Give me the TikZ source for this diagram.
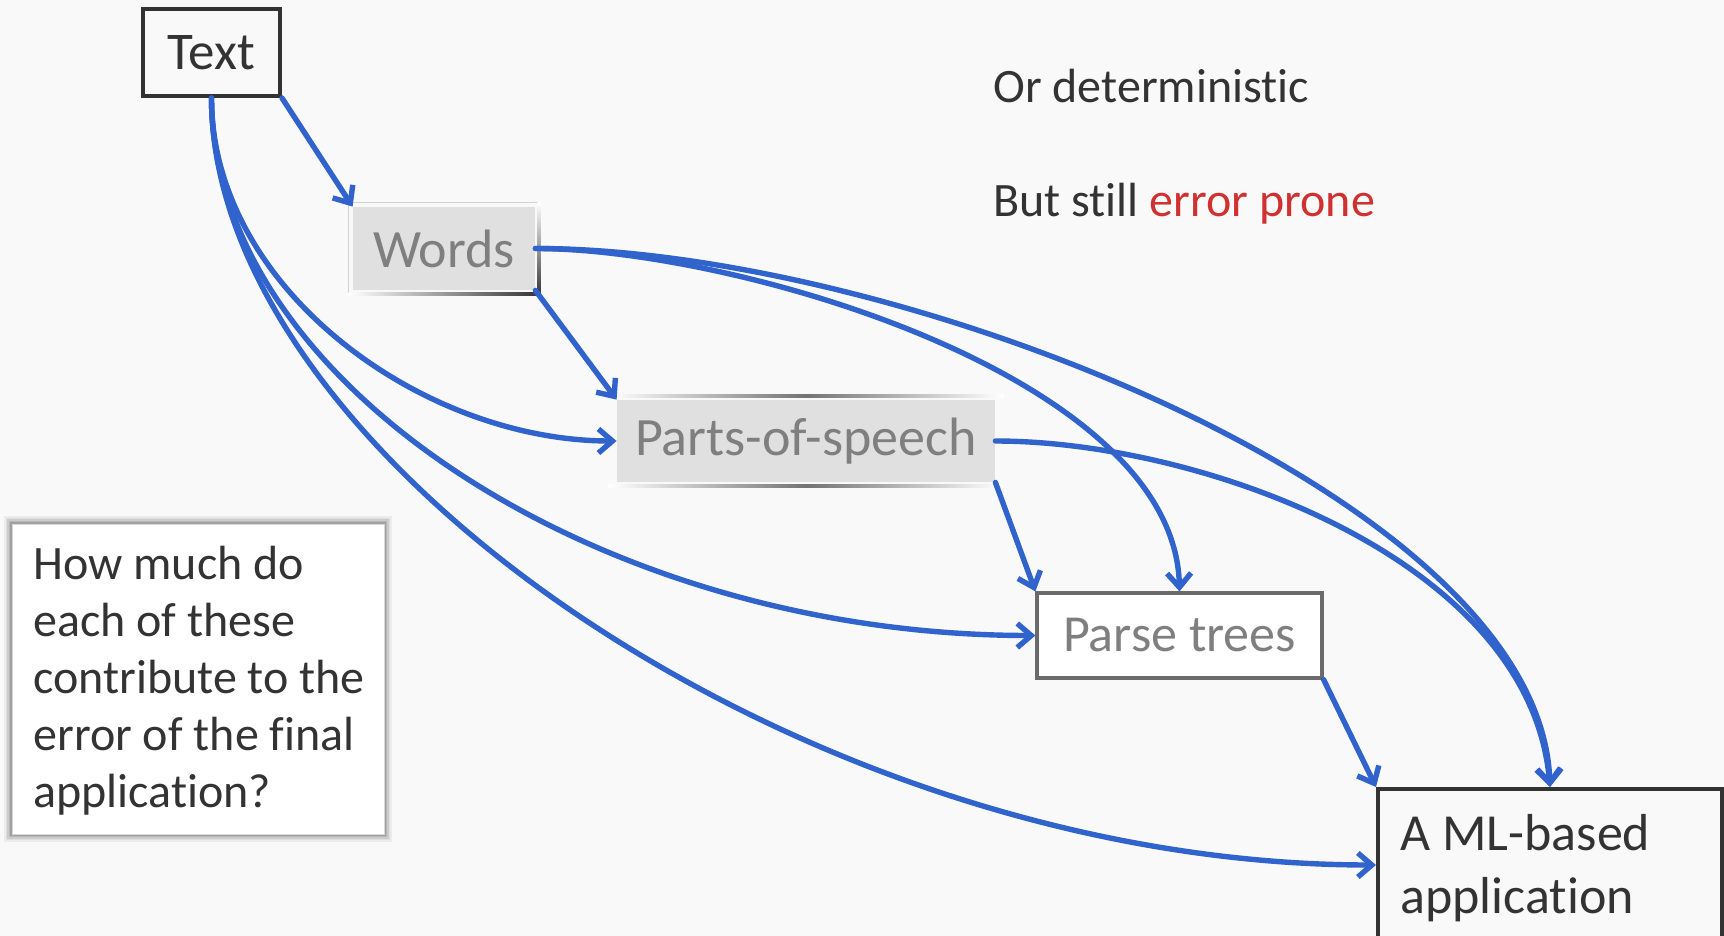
\documentclass[tikz,border=0pt]{standalone}
\usepackage{fontspec}
\setmainfont{Carlito}[Ligatures=NoCommon]
\usetikzlibrary{arrows.meta}
\definecolor{bg}{HTML}{F9F9F9}
\definecolor{ink}{HTML}{333333}
\definecolor{mute}{HTML}{7F7F7F}
\definecolor{chip}{HTML}{E0E0E0}
\definecolor{flow}{HTML}{3163CC}
\definecolor{warn}{HTML}{D03030}
\begin{document}
\begin{tikzpicture}[x=0.5pt,y=-0.5pt,
  darkbox/.style={draw=ink, line width=2pt, rectangle, inner sep=0pt},
  chipbox/.style={fill=chip, rectangle, inner sep=0pt, text=mute},
  note/.style={anchor=base west, text=ink, inner sep=0pt, font=\fontsize{24}{30}\selectfont},
  link/.style={draw=flow, line width=2.7pt, line cap=round,
    -{Straight Barb[length=7pt, width=12pt, line width=2.7pt]}},
]
\fill[bg] (0,0) rectangle (1724,936);
\useasboundingbox (0,0) rectangle (1724,936);

% pipeline stages
\node[darkbox, minimum width=68.5pt, minimum height=43.5pt, text=ink,
  font=\fontsize{26.5}{30}\selectfont] (text) at (211.5,52.5) {Text};

\node[chipbox, minimum width=91pt, minimum height=41.5pt,
  font=\fontsize{27}{32}\selectfont] (words) at (444,248.5) {Words};
\draw[gray!35, line width=0.6pt] ([shift={(-2pt,-2pt)}]words.south west) |- ([shift={(2pt,2pt)}]words.north east);
\shade[left color=white, right color=black!80] ([shift={(-2pt,-1pt)}]words.south west) rectangle ([shift={(2.5pt,-2.5pt)}]words.south east);
\shade[top color=white, bottom color=black!80] ([shift={(1pt,2pt)}]words.north east) rectangle ([shift={(2.5pt,-2.5pt)}]words.south east);

\node[chipbox, minimum width=189pt, minimum height=41pt,
  font=\fontsize{27}{32}\selectfont] (pos) at (806,441) {Parts-of-speech};
\shade[left color=white, right color=white, middle color=black!55] ([shift={(-4pt,1pt)}]pos.north west) rectangle ([shift={(4pt,2.5pt)}]pos.north east);
\shade[left color=white, right color=white, middle color=black!55] ([shift={(-4pt,-1pt)}]pos.south west) rectangle ([shift={(4pt,-2.5pt)}]pos.south east);

\node[draw=black!58, line width=1.6pt, rectangle, inner sep=0pt, fill=white,
  minimum width=142.5pt, minimum height=42.5pt, text=mute,
  font=\fontsize{26}{31}\selectfont] (parse) at (1179.5,635.5) {Parse trees};

\node[darkbox, fill=bg, minimum width=172pt, minimum height=76pt] (app) at (1550,865) {};
\node[anchor=base west, align=left, inner sep=0pt, text=ink,
  font=\fontsize{26}{31.5}\selectfont] (apptext) at (1400,913) {A ML-based\\application};

% question box with a soft halo
\foreach \k/\o in {5/0.05,4/0.06,3/0.08,2/0.10,1/0.12}
  \fill[black, opacity=\o] (12-\k*1.6,524-\k*1.6) rectangle (384+\k*1.6,834+\k*1.6);
\node[draw=gray!30, fill=white, rectangle, inner sep=0pt,
  minimum width=186pt, minimum height=155pt] (q) at (198,679) {};
\node[anchor=base west, align=left, inner sep=0pt, text=ink,
  font=\fontsize{24}{28.5}\selectfont] (qtext) at (33,807)
  {How much do\\each of these\\contribute to the\\error of the final\\application?};

% side remarks
\node[note] (remark1) at (993,103) {Or deterministic};
\node[note] (remark2) at (993,217) {But still \textcolor{warn}{error prone}};

% straight hand-offs
\draw[link] (text.south east) -- (words.north west);
\draw[link] (words.south east) -- (pos.north west);
\draw[link] (pos.south east) -- (parse.north west);
\draw[link] (parse.south east) -- (app.north west);

% curved shortcuts
\draw[link] (text.south) .. controls +(0,190) and +(-195,0) .. (pos.west);
\draw[link] (text.south) .. controls +(0,284) and +(-437,0) .. (parse.west);
\draw[link] (text.south) .. controls +(0,354) and +(-577,0) .. (app.west);
\draw[link] (words.east) .. controls +(200,0) and +(-5,-215) .. (parse.north);
\draw[link] (words.east) .. controls +(365,0) and +(-10,-288) .. (app.north);
\draw[link] (pos.east) .. controls +(205,0) and +(-20,-228) .. (app.north);
\end{tikzpicture}
\end{document}
